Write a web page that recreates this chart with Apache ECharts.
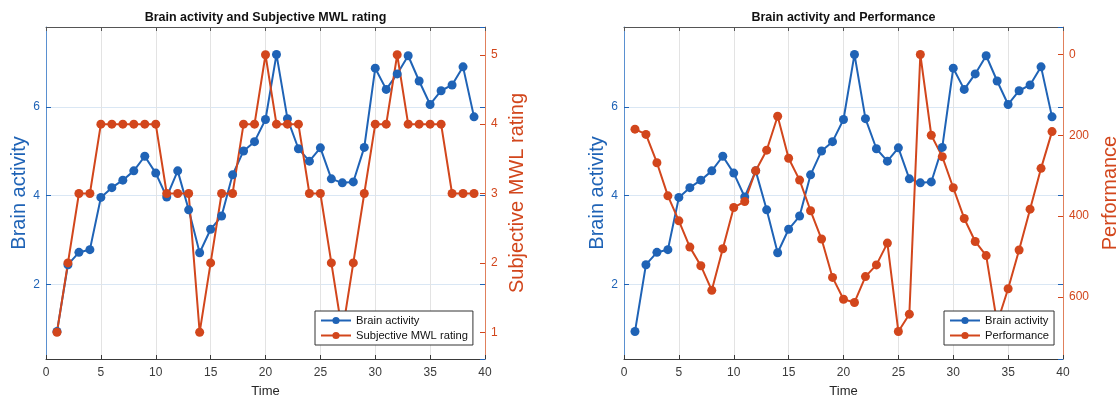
<!DOCTYPE html>
<html>
<head>
<meta charset="utf-8">
<script src="https://cdn.jsdelivr.net/npm/echarts@6/dist/echarts.min.js"></script>
<style>
  html, body { margin: 0; padding: 0; background: #fff; }
  #chart { width: 1117px; height: 399px; }
</style>
</head>
<body>
<div id="chart"></div>
<script>
// Time steps shared by both panels
const timeSteps = [1, 2, 3, 4, 5, 6, 7, 8, 9, 10, 11, 12, 13, 14, 15, 16, 17, 18, 19, 20,
                   21, 22, 23, 24, 25, 26, 27, 28, 29, 30, 31, 32, 33, 34, 35, 36, 37, 38, 39];

// Brain activity (left axis of both panels)
const brainActivity = [0.93, 2.44, 2.72, 2.78, 3.96, 4.18, 4.35, 4.56, 4.89, 4.51,
                       3.97, 4.56, 3.68, 2.71, 3.24, 3.54, 4.47, 5.01, 5.22, 5.72,
                       7.19, 5.74, 5.06, 4.78, 5.08, 4.38, 4.29, 4.31, 5.09, 6.88,
                       6.40, 6.75, 7.16, 6.59, 6.06, 6.37, 6.50, 6.91, 5.78];

// Subjective MWL rating (right axis, left panel)
const mwlRating = [1, 2, 3, 3, 4, 4, 4, 4, 4, 4,
                   3, 3, 3, 1, 2, 3, 3, 4, 4, 5,
                   4, 4, 4, 3, 3, 2, 1, 2, 3, 4,
                   4, 5, 4, 4, 4, 4, 3, 3, 3];

// Performance (right axis, reversed, right panel)
const performance = [185, 198, 268, 350, 412, 477, 523, 584, 481, 379,
                     364, 288, 237, 153, 257, 311, 387, 457, 552, 606,
                     614, 550, 521, 467, 686, 643, 0, 200, 253, 330,
                     406, 463, 498, 665, 580, 484, 383, 282, 191];

// Axis ranges and tick steps
const timeRange = [0, 40], timeStep = 5;
const brainRange = [0.31, 7.81], brainStep = 2;
const mwlRange = [0.615, 5.4], mwlStep = 1;
const perfRange = [-68, 754], perfStep = 200;

const titles = ['Brain activity and Subjective MWL rating', 'Brain activity and Performance'];

const BLUE = '#1F63B6';
const RED = '#D2461C';
const FONT = '"Liberation Sans", Arial, Helvetica, sans-serif';

const pairs = (ys) => timeSteps.map((t, i) => [t, ys[i]]);

const gridBox = [
  { left: 46, top: 27, width: 439, height: 332, outerBoundsMode: 'none', containLabel: false },
  { left: 624, top: 27, width: 439, height: 332, outerBoundsMode: 'none', containLabel: false }
];

function timeAxes(g) {
  return [
    {
      gridIndex: g, type: 'value', position: 'bottom',
      min: timeRange[0], max: timeRange[1], interval: timeStep,
      name: 'Time', nameLocation: 'middle', nameGap: 26,
      nameTextStyle: { color: '#262626', fontSize: 13, fontFamily: FONT },
      axisLine: { onZero: false, lineStyle: { color: '#3a3a3a', width: 1 } },
      axisTick: { inside: true, length: 4, lineStyle: { color: '#3a3a3a' } },
      axisLabel: { color: '#3a3a3a', fontSize: 12, margin: 8, fontFamily: FONT },
      splitLine: { show: true, lineStyle: { color: '#e3e3e3', width: 1 } }
    },
    {
      gridIndex: g, type: 'value', position: 'top',
      min: timeRange[0], max: timeRange[1], interval: timeStep,
      axisLine: { onZero: false, lineStyle: { color: '#555', width: 1 } },
      axisTick: { inside: true, length: 4, lineStyle: { color: '#555' } },
      axisLabel: { show: false },
      splitLine: { show: false }
    }
  ];
}

function valueAxis(g, pos, range, step, color, lineColor, extra) {
  return Object.assign({
    gridIndex: g, type: 'value', position: pos,
    min: range[0], max: range[1], minInterval: step, maxInterval: step,
    axisLine: { show: true, onZero: false, lineStyle: { color: lineColor, width: 1 } },
    axisTick: { show: true, inside: true, length: 5, lineStyle: { color: color } },
    axisLabel: { color: color, fontSize: 12, margin: 6, fontFamily: FONT,
                 showMinLabel: false, showMaxLabel: false },
    splitLine: { show: false }
  }, extra || {});
}

function brainAxis(g, gap) {
  return valueAxis(g, 'left', brainRange, brainStep, BLUE, '#5a90d0', {
    name: 'Brain activity', nameLocation: 'middle', nameGap: gap,
    nameTextStyle: { color: BLUE, fontSize: 20, fontFamily: FONT },
    splitLine: { show: true, lineStyle: { color: '#dae7f4', width: 1 } }
  });
}

// Blue ticks of the brain scale repeated on the right edge
function brainMirror(g) {
  return valueAxis(g, 'right', brainRange, brainStep, BLUE, BLUE, {
    axisLine: { show: false, onZero: false },
    axisLabel: { show: false }
  });
}

const option = {
  animation: false,
  textStyle: { fontFamily: FONT },
  title: titles.map((t, g) => ({
    text: t,
    left: gridBox[g].left + gridBox[g].width / 2,
    top: 11,
    textAlign: 'center',
    padding: 0,
    textStyle: { fontSize: 12.5, fontWeight: 'bold', color: '#111', fontFamily: FONT }
  })),
  grid: gridBox,
  xAxis: [].concat(timeAxes(0), timeAxes(1)),
  yAxis: [
    brainAxis(0, 9),
    valueAxis(0, 'right', mwlRange, mwlStep, RED, '#E0805C', {
      name: 'Subjective MWL rating', nameLocation: 'middle', nameGap: 22,
      nameTextStyle: { color: RED, fontSize: 20, fontFamily: FONT }
    }),
    brainMirror(0),
    brainAxis(1, 13),
    valueAxis(1, 'right', perfRange, perfStep, RED, '#E0805C', {
      inverse: true,
      name: 'Performance', nameLocation: 'middle', nameGap: 37,
      nameTextStyle: { color: RED, fontSize: 20, fontFamily: FONT }
    }),
    brainMirror(1)
  ],
  legend: [
    { data: ['Brain activity', 'Subjective MWL rating'], left: 315, top: 311 },
    { data: ['Brain activity', 'Performance'], left: 944, top: 311 }
  ].map(l => Object.assign(l, {
    orient: 'vertical',
    backgroundColor: '#fff',
    borderColor: '#333',
    borderWidth: 1,
    borderRadius: 0,
    padding: [4, 5, 4, 5],
    itemWidth: 30,
    itemHeight: 9,
    itemGap: 4,
    textStyle: { fontSize: 11.2, color: '#111', fontFamily: FONT }
  })),
  series: [
    { name: 'Brain activity', xAxisIndex: 0, yAxisIndex: 0, data: pairs(brainActivity), color: BLUE },
    { name: 'Subjective MWL rating', xAxisIndex: 0, yAxisIndex: 1, data: pairs(mwlRating), color: RED },
    { name: 'Brain activity', xAxisIndex: 2, yAxisIndex: 3, data: pairs(brainActivity), color: BLUE },
    { name: 'Performance', xAxisIndex: 2, yAxisIndex: 4, data: pairs(performance), color: RED }
  ].map(s => Object.assign(s, {
    type: 'line',
    symbol: 'circle',
    symbolSize: 9,
    lineStyle: { width: 2 },
    itemStyle: { color: s.color },
    emphasis: { disabled: true }
  }))
};

echarts.init(document.getElementById('chart'), null, { renderer: 'canvas' }).setOption(option);
</script>
</body>
</html>
